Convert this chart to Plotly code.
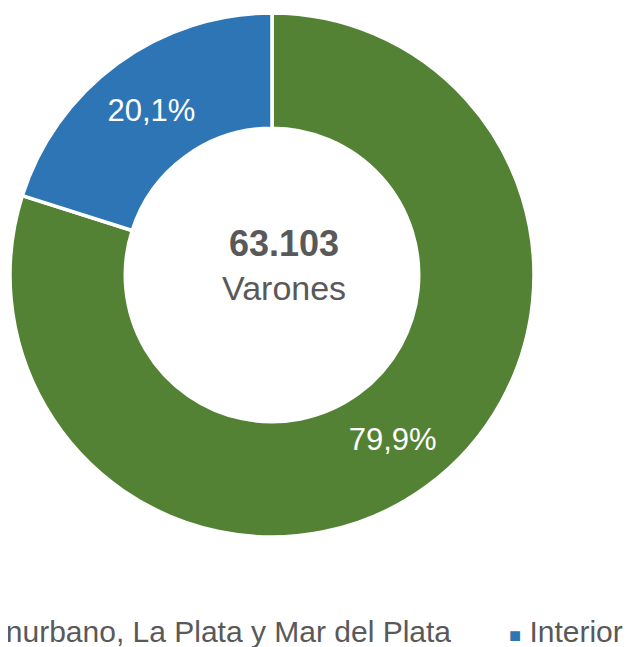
"""
Donut: varones por región
"""
import plotly.graph_objects as go

# datos
categorias = ["Conurbano, La Plata y Mar del Plata", "Interior"]
porcentajes = [79.9, 20.1]
colores = ["#548235", "#2E75B6"]
total = "63.103"
subtitulo = "Varones"

W, H = 631, 647
OFF = 8  # margen del body de la página html
GRIS = "#595959"
FONT = "Liberation Sans, Arial, sans-serif"


def px(x):
    return (x - OFF) / W


def py(y):
    return (H - (y - OFF)) / H


fig = go.Figure(go.Pie(
    labels=categorias,
    values=porcentajes,
    hole=0.56,
    sort=False,
    direction="clockwise",
    rotation=0,
    marker=dict(colors=colores, line=dict(color="white", width=3.5)),
    texttemplate="%{percent:.1%}",
    textposition="inside",
    insidetextorientation="horizontal",
    textfont=dict(color="white", size=31, family=FONT),
    domain=dict(x=[px(10), px(534)], y=[py(537), py(13)]),
    showlegend=False,
    hoverinfo="label+percent",
))

# texto central (algo desplazado a la derecha, como en el original)
fig.add_annotation(
    x=px(284), y=py(265), xref="paper", yref="paper",
    text=f"<span style='font-size:36px'><b>{total}</b></span><br>{subtitulo}",
    showarrow=False, align="center",
    font=dict(size=34, color=GRIS, family=FONT),
)

# leyenda (recortada a la izquierda como en el original)
fig.add_annotation(
    x=px(453), y=py(631), xref="paper", yref="paper",
    xanchor="right", yanchor="middle",
    text=f"<span style='color:{colores[0]};font-size:20px'>■</span> {categorias[0]}",
    showarrow=False,
    font=dict(size=30, color=GRIS, family=FONT),
)
fig.add_annotation(
    x=px(507), y=py(631), xref="paper", yref="paper",
    xanchor="left", yanchor="middle",
    text=f"<span style='color:{colores[1]};font-size:20px'>■</span> {categorias[1]}",
    showarrow=False,
    font=dict(size=30, color=GRIS, family=FONT),
)

fig.update_layout(
    width=W,
    height=H,
    margin=dict(l=0, r=0, t=0, b=0),
    separators=",.",
    paper_bgcolor="white",
    plot_bgcolor="white",
)

fig.write_html("out.html")
